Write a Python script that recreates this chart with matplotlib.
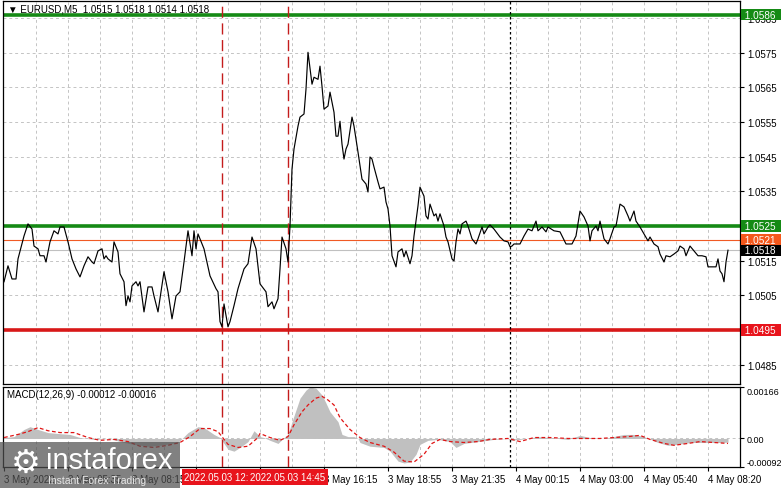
import matplotlib.pyplot as plt
from matplotlib.patches import Rectangle

plt.rcParams['font.family'] = ['Liberation Sans', 'DejaVu Sans']

# price line: bar index (5 min bars) and close
bars = [0, 2, 4, 6, 7, 10, 12, 14, 15, 17, 18, 20, 21, 23, 25, 27, 28, 30, 32, 34,
        36, 38, 40, 42, 44, 45, 47, 49, 50, 51, 52, 54, 55, 57, 58, 60, 61, 62, 63, 64,
        66, 67, 68, 70, 72, 74, 75, 77, 80, 82, 84, 86, 88, 90, 92, 94, 95, 96, 97, 100,
        103, 106, 107, 108, 109, 110, 112, 113, 115, 117, 120, 122, 124, 126, 128, 131, 132, 134, 135, 137,
        138, 139, 141, 142, 143, 144, 145, 147, 148, 150, 151, 152, 154, 155, 157, 158, 159, 160, 162, 163,
        165, 166, 167, 168, 169, 170, 171, 172, 174, 175, 177, 179, 181, 182, 183, 184, 185, 187, 188, 190,
        191, 192, 193, 194, 196, 197, 199, 200, 201, 203, 204, 205, 207, 208, 210, 211, 212, 213, 215, 216,
        217, 218, 220, 221, 222, 224, 225, 226, 227, 228, 229, 231, 232, 234, 236, 237, 239, 240, 242, 243,
        245, 248, 250, 252, 253, 254, 255, 258, 260, 262, 264, 266, 267, 269, 271, 272, 275, 278, 281, 284,
        286, 288, 290, 292, 293, 294, 296, 297, 298, 300, 302, 303, 305, 306, 308, 310, 312, 313, 315, 316,
        318, 320, 322, 323, 325, 327, 328, 330, 331, 333, 335, 337, 338, 340, 341, 343, 345, 347, 349, 351,
        352, 356, 357, 358, 359, 360, 361, 362]
close = [1.05089, 1.05135, 1.05097, 1.05097, 1.05155, 1.05221, 1.05256, 1.05241, 1.05192, 1.05184,
         1.05164, 1.05164, 1.05146, 1.05204, 1.05236, 1.05227, 1.05247, 1.05247, 1.05204, 1.05155,
         1.05126, 1.05103, 1.05135, 1.05161, 1.05146, 1.05141, 1.05178, 1.05184, 1.05155, 1.05164,
         1.05155, 1.05146, 1.05204, 1.05175, 1.05112, 1.05089, 1.05020, 1.05048, 1.05031, 1.05077,
         1.05089, 1.05077, 1.05089, 1.05002, 1.05074, 1.05074, 1.05048, 1.05002, 1.05118, 1.05060,
         1.04982, 1.05048, 1.05060, 1.05146, 1.05236, 1.05164, 1.05236, 1.05184, 1.05227, 1.05184,
         1.05106, 1.05069, 1.05060, 1.04974, 1.04959, 1.05025, 1.04959, 1.04974, 1.05020, 1.05069,
         1.05126, 1.05141, 1.05218, 1.05184, 1.05083, 1.05060, 1.05017, 1.05031, 1.05011, 1.05040,
         1.05126, 1.05218, 1.05184, 1.05146, 1.05250, 1.05414, 1.05472, 1.05538, 1.05564, 1.05573,
         1.05645, 1.05751, 1.05659, 1.05679, 1.05673, 1.05711, 1.05653, 1.05587, 1.05596, 1.05636,
         1.05578, 1.05509, 1.05509, 1.05552, 1.05486, 1.05443, 1.05472, 1.05486, 1.05564, 1.05538,
         1.05463, 1.05385, 1.05371, 1.05348, 1.05449, 1.05443, 1.05420, 1.05377, 1.05357, 1.05362,
         1.05319, 1.05299, 1.05250, 1.05164, 1.05132, 1.05175, 1.05184, 1.05161, 1.05178, 1.05141,
         1.05164, 1.05221, 1.05308, 1.05362, 1.05336, 1.05279, 1.05270, 1.05313, 1.05279, 1.05285,
         1.05264, 1.05285, 1.05250, 1.05218, 1.05204, 1.05155, 1.05149, 1.05204, 1.05241, 1.05227,
         1.05256, 1.05264, 1.05250, 1.05213, 1.05198, 1.05213, 1.05247, 1.05227, 1.05247, 1.05253,
         1.05241, 1.05218, 1.05207, 1.05204, 1.05190, 1.05192, 1.05198, 1.05198, 1.05221, 1.05241,
         1.05236, 1.05264, 1.05236, 1.05247, 1.05233, 1.05247, 1.05236, 1.05233, 1.05198, 1.05198,
         1.05221, 1.05293, 1.05276, 1.05250, 1.05207, 1.05236, 1.05250, 1.05236, 1.05264, 1.05213,
         1.05198, 1.05213, 1.05247, 1.05250, 1.05313, 1.05305, 1.05279, 1.05264, 1.05293, 1.05264,
         1.05247, 1.05227, 1.05207, 1.05218, 1.05198, 1.05190, 1.05169, 1.05146, 1.05164, 1.05161,
         1.05169, 1.05178, 1.05192, 1.05184, 1.05164, 1.05192, 1.05178, 1.05164, 1.05164, 1.05161,
         1.05132, 1.05132, 1.05155, 1.05120, 1.05112, 1.05089, 1.05146, 1.05180]

# MACD histogram (main line) and signal line
hist_bars = [0, 5, 10, 13, 17, 22, 27, 33, 38, 45, 53, 58, 65, 72, 78, 87, 92, 97, 100, 105,
             108, 112, 115, 118, 122, 125, 128, 130, 133, 137, 140, 142, 144, 146, 148, 151, 153, 156, 159, 161,
             163, 167, 169, 172, 175, 177, 178, 183, 190, 193, 197, 200, 203, 206, 208, 212, 217, 223, 226, 230,
             237, 245, 252, 253, 258, 267, 272, 282, 288, 293, 300, 310, 315, 320, 327, 332, 337, 343, 352, 358,
             362]
hist = [0.00003, 0.00006, 0.00029, 0.00038, 0.00029, 0.00019, 0.00016, 0.00013, 0.00003, -0.00003,
        0.0, -0.0001, -0.00019, -0.00025, -0.00022, -0.00013, 0.00019, 0.00038, 0.00035, 0.00013,
        0.00003, -0.00035, -0.00041, -0.00029, -0.0001, 0.00025, 0.00006, 0.00003, -0.00006, -0.00016,
        0.00003, 0.00013, 0.00054, 0.00092, 0.0013, 0.00156, 0.00166, 0.00162, 0.0014, 0.00114,
        0.00086, 0.00054, 0.00013, 0.00006, 0.00006, 0.0, -0.00013, -0.00025, -0.00029, -0.00041,
        -0.00073, -0.00079, -0.00076, -0.00051, -0.00019, -0.00006, -0.00003, -0.0001, -0.00029, -0.00016,
        -0.0001, -0.00003, 0.0, -0.00006, -0.00003, 0.00006, 0.00003, -0.00003, 0.0001, 0.00003,
        0.0, 0.00013, 0.00013, 0.00006, -0.00013, -0.00022, -0.00019, -0.00013, -0.00013, -0.00013,
        -0.00012]
sig_bars = [0, 7, 12, 17, 22, 28, 35, 42, 48, 55, 62, 68, 75, 82, 88, 93, 98, 103, 107, 112,
            117, 122, 127, 128, 133, 138, 142, 145, 149, 152, 156, 159, 162, 165, 168, 173, 178, 183, 190, 195,
            200, 205, 210, 214, 218, 223, 230, 237, 243, 252, 258, 265, 273, 282, 290, 298, 305, 312, 318, 323,
            330, 335, 342, 348, 355, 362]
signal = [0.00003, 0.00013, 0.00022, 0.00035, 0.00025, 0.00019, 0.00019, 0.00003, -0.00006, -0.00003,
          -0.0001, -0.00025, -0.00029, -0.00022, -0.00013, 0.00006, 0.00032, 0.00032, 0.00022, -0.00019,
          -0.00029, -0.00025, 0.00003, 0.00016, 0.00003, -0.00006, 0.00006, 0.00044, 0.00086, 0.00108,
          0.0013, 0.00136, 0.00124, 0.00108, 0.00067, 0.00029, 0.00003, -0.00013, -0.00025, -0.00044,
          -0.00073, -0.00076, -0.00051, -0.00016, -0.00003, -0.0001, -0.00013, -0.0001, -0.00003, 0.0,
          -0.0001, 0.00003, 0.00003, 0.0, 0.0, 0.0, 0.00003, 0.00006, 0.0001, -0.00003,
          -0.00016, -0.00022, -0.00016, -0.0001, -0.00013, -0.00016]

price_ticks = [1.0485, 1.0495, 1.0505, 1.0515, 1.0525, 1.0535, 1.0545, 1.0555, 1.0565, 1.0575, 1.0585]
hidden_prices = [1.0495, 1.0525]  # labels sit under the level boxes
time_ticks = [0, 32, 64, 96, 128, 160, 192, 224, 256, 288, 320, 352]
time_labels = ["3 May 2022", "3 May 05:35", "3 May 08:15", "", "",
               "3 May 16:15", "3 May 18:55", "3 May 21:35", "4 May 00:15", "4 May 03:00",
               "4 May 05:40", "4 May 08:20"]
vlines = [109, 142]
vline_labels = ["2022.05.03 12:00", "2022.05.03 14:45"]
day_sep = 253
levels = [1.0586, 1.0525, 1.0521, 1.0518, 1.0495]
level_colors = ["#158a15", "#158a15", "#f05a24", "#c0c0c0", "#d81818"]
box_colors = ["#158a15", "#158a15", "#f4581c", "#000000", "#e8141c"]
level_widths = [2.6, 2.6, 0.8, 0.8, 2.6]

W, H = 781, 489
fig = plt.figure(figsize=(W / 100, H / 100), dpi=100)
ax = fig.add_axes([3 / W, 1 - 385 / H, 737 / W, 383 / H])
ax2 = fig.add_axes([3 / W, 1 - 468 / H, 737 / W, 80 / H])

grid_kw = dict(color="#c4c4c4", lw=0.7, ls=(0, (3, 3)), zorder=0)
for a in (ax, ax2):
    a.set_xlim(-0.5, 368)
    for g in range(16, 368, 16):
        a.axvline(g, **grid_kw)
    for sp in a.spines.values():
        sp.set_color("black")
        sp.set_linewidth(0.9)
    a.yaxis.tick_right()
    a.tick_params(axis="y", length=3, pad=2, labelsize=7, width=0.8)
    for v in vlines:
        a.axvline(v, color="#c41c1c", lw=1, ls=(0, (8, 4)), zorder=3)
    a.axvline(day_sep, color="black", lw=0.9, ls=(0, (2, 2)), zorder=3)

# main price panel
ax.set_ylim(1.04794, 1.05899)
for p in price_ticks:
    ax.axhline(p, **grid_kw)
ax.set_yticks(price_ticks)
ax.set_yticklabels(["" if p in hidden_prices else f"{p:.4f}" for p in price_ticks])
ax.set_xticks([])
for lv, c, w in zip(levels, level_colors, level_widths):
    ax.axhline(lv, color=c, lw=w, zorder=2)
ax.plot(bars, close, color="black", lw=0.85, zorder=4)
for lv, c in zip(levels, box_colors):
    ax.annotate(f" {lv:.4f}  ", xy=(1, lv), xycoords=("axes fraction", "data"),
                xytext=(1.5, 0), textcoords="offset pixels", va="center", ha="left",
                fontsize=7.2, color="white", annotation_clip=False, zorder=10,
                bbox=dict(boxstyle="square,pad=0.06", fc=c, ec="none"))
ax.annotate("▼ EURUSD,M5  1.0515 1.0518 1.0514 1.0518", xy=(0, 1), xycoords="axes fraction",
            xytext=(5, -8), textcoords="offset pixels", fontsize=7, va="center", ha="left")

# MACD panel
ax2.set_ylim(-0.00092, 0.00166)
ax2.axhline(0, **grid_kw)
ax2.fill_between(hist_bars, hist, 0, color="#c0c0c0", lw=0, zorder=1)
ax2.plot(sig_bars, signal, color="#e01414", lw=0.9, ls=(0, (3, 2)), zorder=4)
ax2.set_yticks([0.00166, 0.0, -0.00092])
ax2.set_yticklabels(["0.00166", "0.00", "-0.00092"], fontsize=6.5)
ax2.tick_params(axis="y", pad=1.5)
ylabs = ax2.get_yticklabels()
ylabs[0].set_va("top")
ylabs[2].set_va("bottom")
ax2.annotate("MACD(12,26,9) -0.00012 -0.00016", xy=(0, 1), xycoords="axes fraction",
             xytext=(4, -7), textcoords="offset pixels", fontsize=7, va="center", ha="left")
ax2.set_xticks(time_ticks)
ax2.set_xticklabels(time_labels, ha="left", fontsize=7)
ax2.tick_params(axis="x", length=3, pad=2, width=0.8)
for v, lab in zip(vlines, vline_labels):
    ax2.annotate(lab, xy=(v, 0), xycoords=("data", "axes fraction"),
                 xytext=(0, -10), textcoords="offset pixels", ha="center", va="center",
                 fontsize=7, color="white", annotation_clip=False, zorder=10,
                 bbox=dict(boxstyle="square,pad=0.3", fc="#e8141c", ec="none"))

# watermark
fig.patches.append(Rectangle((0, 0), 180 / W, 46 / H, transform=fig.transFigure,
                             fc="#505050", ec="none", alpha=0.72, zorder=20))
fig.text(26 / W, 1 - 463 / H, "⚙", fontsize=24, color="white", ha="center", va="center",
         zorder=21, family="DejaVu Sans")
fig.text(46 / W, 1 - 461 / H, "instaforex", fontsize=21, color="white", ha="left", va="center",
         zorder=21)
fig.text(48 / W, 1 - 481 / H, "Instant Forex Trading", fontsize=7.5, color="#e6e6e6",
         ha="left", va="center", zorder=21)

fig.savefig("out.png", dpi=100, facecolor="white")
